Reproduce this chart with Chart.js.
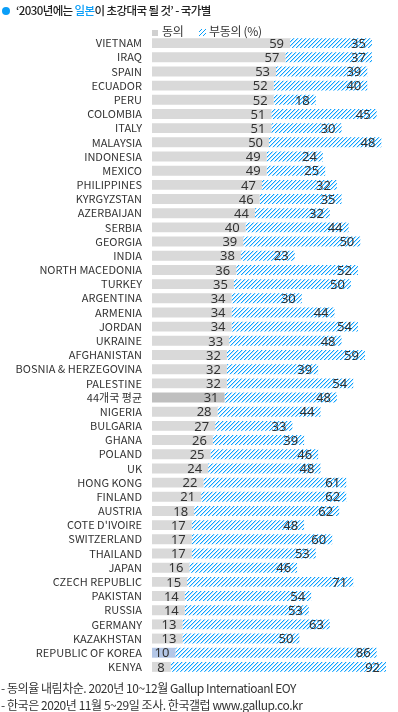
<!DOCTYPE html>
<html><head><meta charset="utf-8">
<script src="https://cdn.jsdelivr.net/npm/chart.js@4"></script>
<style>
html,body{margin:0;padding:0;background:#fff;}
#wrap{position:relative;width:398px;height:712px;font-family:"Noto Sans CJK KR","Noto Sans",sans-serif;color:#333;}
canvas{position:absolute;left:0;top:0;}
.t{position:absolute;white-space:nowrap;}
</style></head><body>
<div id="wrap">
<canvas id="c" width="398" height="712"></canvas>
<div class="t" style="left:2px;top:2px;font-size:11.5px;font-weight:500;color:#222;letter-spacing:-0.6px;"><span style="display:inline-block;width:8px;height:8px;border-radius:50%;background:#0a9ef8;margin-right:6px;vertical-align:0px;"></span>‘2030년에는 <span style="color:#0a9ef8">일본</span>이 초강대국 될 것’ - 국가별</div>
<div class="t" style="left:152px;top:22px;font-size:12px;color:#333;letter-spacing:-0.3px;"><span style="display:inline-block;width:6px;height:6px;background:#d0d0d0;margin-right:4px;"></span>동의</div>
<div class="t" style="left:199px;top:22px;font-size:12px;color:#333;letter-spacing:-0.3px;"><span style="display:inline-block;width:7px;height:7px;margin-right:3px;background:repeating-linear-gradient(135deg,#fff 0 1.5px,#0a9ef8 1.5px 2.8px);"></span>부동의 (%)</div>
<div class="t" style="left:1px;top:679px;font-size:12px;color:#333;letter-spacing:-0.45px;">- 동의율 내림차순. 2020년 10~12월 Gallup Internatioanl EOY</div>
<div class="t" style="left:1px;top:696px;font-size:12px;color:#333;letter-spacing:-0.45px;">- 한국은 2020년 11월 5~29일 조사. 한국갤럽 www.gallup.co.kr</div>
</div>
<script>
const countries = ["VIETNAM","IRAQ","SPAIN","ECUADOR","PERU","COLOMBIA","ITALY","MALAYSIA","INDONESIA","MEXICO","PHILIPPINES","KYRGYZSTAN","AZERBAIJAN","SERBIA","GEORGIA","INDIA","NORTH MACEDONIA","TURKEY","ARGENTINA","ARMENIA","JORDAN","UKRAINE","AFGHANISTAN","BOSNIA & HERZEGOVINA","PALESTINE","44개국 평균","NIGERIA","BULGARIA","GHANA","POLAND","UK","HONG KONG","FINLAND","AUSTRIA","COTE D'IVOIRE","SWITZERLAND","THAILAND","JAPAN","CZECH REPUBLIC","PAKISTAN","RUSSIA","GERMANY","KAZAKHSTAN","REPUBLIC OF KOREA","KENYA"];
const agree = [59,57,53,52,52,51,51,50,49,49,47,46,44,40,39,38,36,35,34,34,34,33,32,32,32,31,28,27,26,25,24,22,21,18,17,17,17,16,15,14,14,13,13,10,8];
const disagree = [35,37,39,40,18,45,30,48,24,25,32,35,32,44,50,23,52,50,30,44,54,48,59,39,54,48,44,33,39,46,48,61,62,62,48,60,53,46,71,54,53,63,50,86,92];
const seriesNames = ["동의","부동의"];

function hatch(){
  const s=4, p=document.createElement('canvas'); p.width=s; p.height=s;
  const g=p.getContext('2d');
  g.fillStyle='#fff'; g.fillRect(0,0,s,s);
  for(let i=0;i<s;i++){
    g.fillStyle='#0aa2ff'; g.fillRect(i, s-1-i, 1, 1);
    g.fillStyle='#b8e0ff'; g.fillRect((i+1)%s, s-1-i, 1, 1);
  }
  return document.getElementById('c').getContext('2d').createPattern(p,'repeat');
}
const agreeColors = countries.map(c => c==="44개국 평균" ? '#bfbfbf' : (c==="REPUBLIC OF KOREA" ? '#b4c7e7' : '#d9d9d9'));

const labelPlugin = {
  id:'vals',
  afterDatasetsDraw(chart){
    const ctx=chart.ctx;
    ctx.save();
    ctx.font='13px "Noto Sans","DejaVu Sans",sans-serif';
    ctx.fillStyle='#333';
    ctx.textAlign='right';
    ctx.textBaseline='middle';
    chart.data.datasets.forEach((ds,di)=>{
      chart.getDatasetMeta(di).data.forEach((bar,i)=>{
        ctx.fillText(String(ds.data[i]), bar.x-6, bar.y+1);
      });
    });
    ctx.restore();
  }
};

new Chart(document.getElementById('c'),{
  type:'bar',
  data:{
    labels:countries,
    datasets:[
      {label:seriesNames[0],data:agree,backgroundColor:agreeColors,categoryPercentage:0.7,barPercentage:1},
      {label:seriesNames[1],data:disagree,backgroundColor:hatch(),categoryPercentage:0.7,barPercentage:1}
    ]
  },
  options:{
    indexAxis:'y',
    responsive:false,
    animation:false,
    devicePixelRatio:1,
    layout:{padding:{left:0,right:12,top:36,bottom:38}},
    plugins:{legend:{display:false},tooltip:{enabled:false}},
    scales:{
      x:{stacked:true,min:0,max:100,display:false},
      y:{stacked:true,
        grid:{display:false,drawTicks:false},
        border:{display:false},
        ticks:{color:'#333',padding:10,autoSkip:false,font:{size:11,family:'"Noto Sans CJK KR","Noto Sans",sans-serif'}},
        afterFit(s){s.width=152;}
      }
    }
  },
  plugins:[labelPlugin]
});
</script>
</body></html>
